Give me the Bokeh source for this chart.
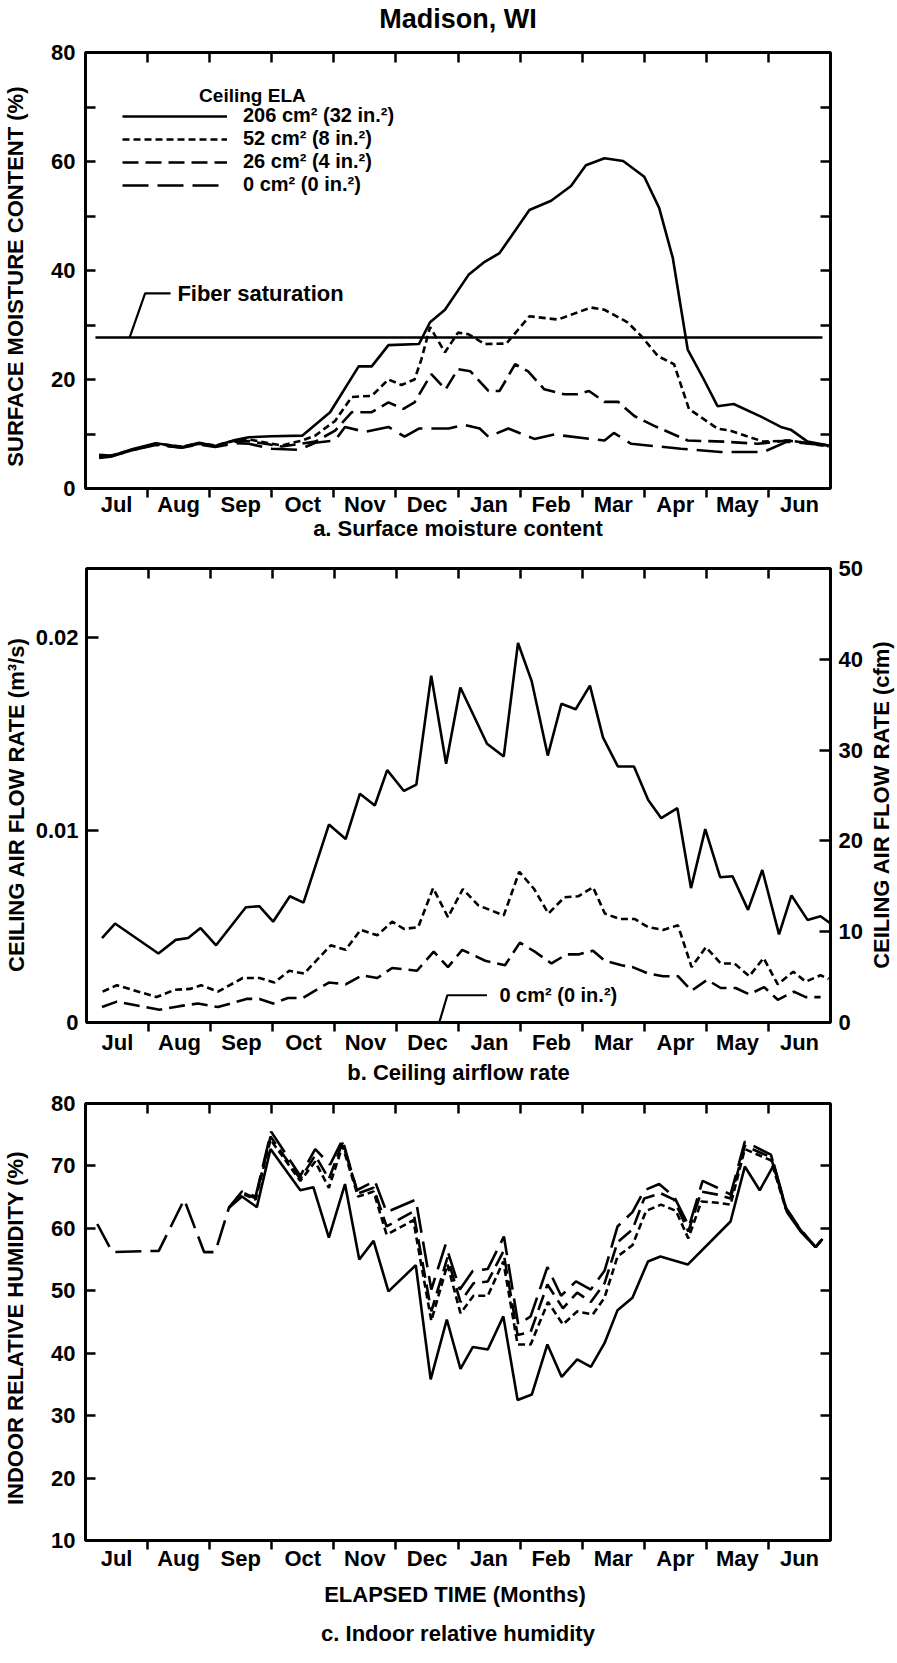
import math
from bokeh.plotting import figure
from bokeh.models import Range1d, LinearAxis, FixedTicker, Legend, LegendItem, Label, Title
from bokeh.layouts import column, row
from bokeh.core.properties import value
from bokeh.embed import file_html
from bokeh.resources import INLINE

FONT = "Liberation Sans"

# ---------------- categories ----------------
months = ["Jul", "Aug", "Sep", "Oct", "Nov", "Dec", "Jan", "Feb", "Mar", "Apr", "May", "Jun"]
month_centers = [i + 0.5 for i in range(12)]
month_bounds = list(range(1, 12))
ela_labels = ["206 cm² (32 in.²)", "52 cm² (8 in.²)", "26 cm² (4 in.²)", "0 cm² (0 in.²)"]

# ---------------- a. surface moisture content (%) ; x = elapsed months ----------------
a_x_206 = [0.22, 0.43, 0.75, 1.13, 1.56, 1.83, 2.09, 2.41, 2.63, 3.0, 3.49, 3.94, 4.4, 4.61, 4.88, 5.37, 5.55,
           5.79, 6.17, 6.43, 6.67, 7.15, 7.5, 7.82, 8.06, 8.36, 8.66, 9.0, 9.24, 9.46, 9.7, 9.96, 10.18, 10.44,
           10.88, 11.2, 11.36, 11.63, 11.97]
a_y_206 = [6.2, 6.0, 7.2, 8.3, 7.6, 8.4, 7.8, 8.9, 9.4, 9.6, 9.7, 14.0, 22.4, 22.4, 26.3, 26.5, 30.5,
           32.8, 39.2, 41.6, 43.2, 51.1, 52.8, 55.5, 59.3, 60.6, 60.1, 57.2, 51.5, 42.3, 25.5, 20.0, 15.1, 15.5,
           13.2, 11.3, 10.8, 8.6, 7.9]
a_x_52 = [0.22, 0.43, 0.75, 1.13, 1.56, 1.83, 2.09, 2.41, 2.63, 3.16, 3.49, 3.7, 4.02, 4.29, 4.61, 4.88, 5.09,
          5.3, 5.41, 5.55, 5.79, 6.0, 6.17, 6.43, 6.78, 7.15, 7.61, 8.14, 8.36, 8.73, 8.95, 9.22, 9.48, 9.72,
          10.18, 10.39, 10.92, 11.36, 11.97]
a_y_52 = [6.0, 6.1, 7.1, 8.2, 7.7, 8.3, 7.9, 8.8, 9.0, 7.9, 8.8, 9.7, 12.4, 16.8, 17.0, 20.0, 19.0,
          20.0, 23.7, 29.6, 25.0, 28.6, 28.3, 26.5, 26.6, 31.6, 31.0, 33.2, 32.8, 30.5, 28.0, 24.3, 22.8, 14.6,
          11.0, 10.6, 8.6, 8.8, 7.7]
a_x_26 = [0.22, 0.43, 0.75, 1.13, 1.56, 1.83, 2.09, 2.41, 2.63, 3.16, 3.7, 4.02, 4.29, 4.61, 4.88, 5.12, 5.3,
          5.57, 5.8, 6.0, 6.2, 6.49, 6.67, 6.92, 7.13, 7.39, 7.71, 7.93, 8.11, 8.36, 8.58, 8.84, 9.16, 9.7,
          10.28, 10.83, 11.3, 11.97]
a_y_26 = [5.8, 6.0, 7.0, 8.1, 7.5, 8.2, 7.7, 8.6, 8.7, 7.7, 8.6, 10.6, 14.0, 14.0, 15.8, 14.6, 15.8,
          21.0, 18.2, 21.9, 21.5, 17.9, 17.9, 22.8, 21.5, 18.2, 17.3, 17.3, 17.9, 15.9, 15.9, 13.3, 11.5, 8.8,
          8.6, 8.2, 8.8, 7.9]
a_x_0 = [0.22, 0.43, 0.75, 1.13, 1.56, 1.83, 2.09, 2.41, 2.63, 3.0, 3.44, 3.7, 4.02, 4.18, 4.5, 4.88, 5.14,
         5.37, 5.85, 6.1, 6.35, 6.49, 6.81, 7.23, 7.55, 8.36, 8.51, 8.79, 9.59, 10.23, 10.92, 11.3, 11.97]
a_y_0 = [5.6, 5.9, 7.0, 8.0, 7.5, 8.1, 7.6, 8.3, 8.2, 7.3, 7.1, 8.4, 8.8, 11.3, 10.4, 11.3, 9.5,
         11.0, 11.0, 11.7, 11.0, 9.5, 11.0, 9.1, 9.9, 8.8, 10.2, 8.2, 7.3, 6.7, 6.7, 8.6, 7.9]
fiber_saturation = 27.7

# ---------------- b. ceiling airflow rate (cfm) ----------------
b_x_206 = [0.25, 0.46, 1.16, 1.44, 1.64, 1.84, 2.09, 2.57, 2.79, 3.01, 3.28, 3.5, 3.91, 4.18, 4.41, 4.65, 4.85,
           5.12, 5.32, 5.56, 5.8, 6.03, 6.46, 6.73, 6.96, 7.18, 7.44, 7.66, 7.89, 8.12, 8.33, 8.57, 8.83, 9.06,
           9.27, 9.53, 9.75, 9.98, 10.22, 10.42, 10.67, 10.9, 11.17, 11.37, 11.63, 11.84, 12.0]
b_y_206 = [9.3, 10.9, 7.6, 9.1, 9.3, 10.4, 8.5, 12.7, 12.8, 11.1, 13.9, 13.2, 21.8, 20.2, 25.2, 23.9, 27.8,
           25.5, 26.2, 38.2, 28.5, 36.9, 30.7, 29.3, 41.8, 37.6, 29.4, 35.1, 34.5, 37.1, 31.4, 28.2, 28.2, 24.5,
           22.5, 23.6, 14.8, 21.3, 16.0, 16.1, 12.4, 16.8, 9.7, 14.0, 11.3, 11.7, 10.9]
b_x_52 = [0.26, 0.49, 1.13, 1.42, 1.67, 1.85, 2.12, 2.52, 2.79, 3.03, 3.27, 3.51, 3.94, 4.18, 4.42, 4.69, 4.93,
          5.12, 5.35, 5.59, 5.83, 6.07, 6.32, 6.73, 6.98, 7.22, 7.45, 7.71, 7.93, 8.17, 8.36, 8.6, 8.84, 9.06,
          9.3, 9.54, 9.76, 9.99, 10.23, 10.45, 10.69, 10.92, 11.15, 11.4, 11.6, 11.84, 11.97]
b_y_52 = [3.4, 4.1, 2.8, 3.6, 3.7, 4.1, 3.4, 4.9, 4.9, 4.4, 5.7, 5.4, 8.5, 8.0, 10.2, 9.6, 11.1,
          10.3, 10.5, 14.8, 11.6, 14.7, 12.9, 11.8, 16.6, 14.7, 12.0, 13.8, 13.9, 14.9, 12.0, 11.4, 11.4, 10.5,
          10.2, 10.7, 6.1, 8.3, 6.5, 6.5, 5.1, 7.1, 4.2, 5.6, 4.5, 5.2, 4.8]
b_x_26 = [0.25, 0.49, 1.18, 1.5, 1.8, 2.12, 2.58, 2.79, 3.01, 3.25, 3.49, 3.91, 4.18, 4.45, 4.69, 4.93, 5.33,
          5.6, 5.83, 6.06, 6.43, 6.75, 6.99, 7.23, 7.5, 7.74, 7.93, 8.17, 8.36, 8.63, 8.81, 9.06, 9.3, 9.54,
          9.76, 10.01, 10.23, 10.47, 10.69, 10.93, 11.15, 11.41, 11.6, 11.84]
b_y_26 = [1.7, 2.3, 1.4, 1.8, 2.1, 1.7, 2.6, 2.6, 2.1, 2.7, 2.7, 4.4, 4.2, 5.2, 4.9, 6.0, 5.7,
          7.8, 6.1, 8.0, 6.8, 6.3, 8.8, 7.8, 6.5, 7.5, 7.5, 7.9, 6.8, 6.3, 6.1, 5.4, 5.1, 5.1,
          3.5, 4.7, 3.8, 3.8, 3.1, 3.9, 2.5, 3.4, 2.8, 2.8]
b_cfm_max = 50
CFM_TO_M3S = 0.00047194745

# ---------------- c. indoor relative humidity (%) ----------------
c_x_206 = [2.31, 2.52, 2.76, 2.98, 3.46, 3.67, 3.92, 4.18, 4.41, 4.64, 4.88, 5.32, 5.56, 5.82, 6.04, 6.24, 6.48,
           6.73, 6.96, 7.19, 7.44, 7.67, 7.92, 8.14, 8.36, 8.57, 8.81, 9.06, 9.26, 9.7, 10.39, 10.62, 10.86,
           11.09, 11.3, 11.52, 11.76, 11.87]
c_y_206 = [63.3, 65.1, 63.4, 72.7, 66.1, 66.6, 58.5, 67.1, 55.0, 58.0, 49.9, 54.1, 35.8, 45.4, 37.5, 41.0, 40.6,
           45.9, 32.5, 33.4, 41.4, 36.2, 39.0, 37.8, 41.6, 46.9, 48.9, 54.7, 55.5, 54.2, 61.1, 69.9, 66.1,
           70.2, 62.6, 59.5, 57.0, 58.3]
c_x_52 = [2.31, 2.52, 2.74, 2.98, 3.46, 3.7, 3.92, 4.14, 4.39, 4.64, 4.85, 5.28, 5.57, 5.83, 6.04, 6.25, 6.48,
          6.73, 6.96, 7.17, 7.45, 7.69, 7.92, 8.17, 8.36, 8.57, 8.81, 9.03, 9.27, 9.51, 9.71, 9.92, 10.18,
          10.39, 10.62, 11.04, 11.28, 11.52, 11.76, 11.87]
c_y_52 = [63.3, 65.6, 64.6, 74.2, 67.6, 70.7, 66.5, 73.2, 65.1, 65.9, 59.0, 61.3, 45.2, 54.2, 46.4, 49.2, 49.2,
          54.7, 41.4, 41.4, 48.2, 44.6, 46.7, 46.2, 48.9, 55.5, 57.3, 62.8, 63.8, 62.8, 58.4, 64.3, 64.1,
          63.8, 72.7, 70.9, 63.1, 59.6, 57.0, 58.3]
c_x_26 = [2.31, 2.52, 2.74, 2.98, 3.46, 3.7, 3.92, 4.14, 4.39, 4.64, 4.85, 5.28, 5.57, 5.83, 6.04, 6.25, 6.48,
          6.73, 6.96, 7.17, 7.44, 7.69, 7.92, 8.14, 8.36, 8.57, 8.81, 9.0, 9.27, 9.48, 9.71, 9.92, 10.18,
          10.39, 10.62, 11.04, 11.28, 11.52, 11.76, 11.87]
c_y_26 = [63.3, 65.8, 64.8, 74.7, 67.9, 71.7, 67.9, 73.7, 65.6, 66.5, 60.3, 62.7, 46.7, 55.3, 48.2, 51.2, 51.5,
          56.3, 42.9, 43.4, 51.0, 47.2, 49.7, 48.2, 51.2, 57.8, 59.8, 64.8, 65.6, 64.6, 59.5, 65.9, 65.4,
          64.8, 73.2, 71.4, 63.3, 59.7, 57.0, 58.3]
c_x_0 = [0.19, 0.43, 1.18, 1.59, 1.91, 2.09, 2.31, 2.52, 2.74, 2.99, 3.46, 3.7, 3.94, 4.14, 4.37, 4.66, 4.85,
         5.32, 5.57, 5.8, 6.03, 6.24, 6.48, 6.74, 6.97, 7.17, 7.44, 7.66, 7.9, 8.14, 8.36, 8.57, 8.81, 9.0,
         9.24, 9.48, 9.72, 9.94, 10.18, 10.39, 10.62, 11.04, 11.28, 11.52, 11.76, 11.87]
c_y_0 = [60.7, 56.2, 56.4, 64.6, 56.2, 56.2, 63.3, 65.9, 65.1, 75.5, 68.4, 72.7, 70.2, 74.2, 66.1, 67.6, 62.6,
         64.6, 50.2, 57.4, 50.2, 53.2, 53.5, 58.7, 44.6, 45.9, 53.8, 49.2, 51.5, 50.2, 53.2, 60.3, 62.6, 66.1,
         67.1, 65.1, 60.3, 67.6, 66.5, 65.4, 73.9, 71.8, 63.3, 59.8, 57.0, 58.3]

# ---------------- styling ----------------
DASH = {"206": "solid", "52": "7 4", "26": "16 7", "0": "26 9"}
LW = 2.6
W = 897
SIDE_W = 30          # strip that carries the right-hand axis title of panel b
TXT = "22px"


def style_axis(ax, size=TXT):
    ax.major_label_text_font = FONT
    ax.major_label_text_font_size = size
    ax.major_label_text_font_style = "bold"
    ax.major_label_text_color = "black"
    ax.axis_label_text_font = FONT
    ax.axis_label_text_font_size = size
    ax.axis_label_text_font_style = "bold"
    ax.axis_label_text_color = "black"
    ax.axis_line_color = None
    ax.major_tick_line_width = 2.5
    ax.minor_tick_line_width = 2.5
    ax.major_tick_line_color = "black"
    ax.minor_tick_line_color = "black"


def hide_labels(ax):
    ax.major_label_text_color = None
    ax.major_label_text_font_size = "1px"
    ax.major_label_standoff = 0


def make_fig(height, y0, y1, b_top, b_bottom, width=W, b_right=67):
    p = figure(width=width, height=height, x_range=Range1d(0, 12), y_range=Range1d(y0, y1),
               output_backend="svg", toolbar_location=None, title=None,
               x_axis_location=None, y_axis_location=None,
               min_border_left=83, min_border_right=b_right, min_border_top=b_top, min_border_bottom=b_bottom)
    p.grid.visible = False
    p.outline_line_color = "black"
    p.outline_line_width = 3
    p.background_fill_color = "white"
    p.border_fill_color = "white"
    return p


def month_axes(p, label, month_standoff, label_standoff, top_label=None, top_standoff=0):
    xb = LinearAxis(ticker=FixedTicker(ticks=month_centers, minor_ticks=month_bounds))
    style_axis(xb)
    xb.major_label_overrides = dict(zip(month_centers, months))
    xb.major_tick_in = 0
    xb.major_tick_out = 0
    xb.minor_tick_in = 0
    xb.minor_tick_out = 9
    xb.major_label_standoff = month_standoff
    xb.axis_label = label
    xb.axis_label_standoff = label_standoff
    p.add_layout(xb, "below")
    xt = LinearAxis(ticker=FixedTicker(ticks=month_bounds))
    style_axis(xt)
    xt.major_tick_in = 10
    xt.major_tick_out = 0
    hide_labels(xt)
    if top_label:
        xt.axis_label = top_label
        xt.axis_label_text_font_size = "27px"
        xt.axis_label_standoff = top_standoff
    p.add_layout(xt, "above")


def plain_right(p, ticks):
    ax = LinearAxis(ticker=FixedTicker(ticks=ticks))
    style_axis(ax)
    ax.major_tick_in = 10
    ax.major_tick_out = 0
    hide_labels(ax)
    p.add_layout(ax, "right")


def text_label(p, x, y, text, size="22px"):
    p.add_layout(Label(x=x, y=y, text=text, text_font=FONT, text_font_size=size,
                       text_font_style="bold", text_baseline="middle", text_align="left",
                       text_color="black"))


# ================= panel a =================
pa = make_fig(548, 0, 80, 51, 60)
month_axes(pa, "a. Surface moisture content", -6, -4, top_label="Madison, WI", top_standoff=19)
ya = LinearAxis(ticker=FixedTicker(ticks=[0, 20, 40, 60, 80], minor_ticks=[10, 30, 50, 70]))
style_axis(ya)
ya.major_tick_in = 10
ya.major_tick_out = 0
ya.minor_tick_in = 10
ya.minor_tick_out = 0
ya.major_label_standoff = 10
ya.axis_label = "SURFACE  MOISTURE  CONTENT (%)"
ya.axis_label_standoff = 20
pa.add_layout(ya, "left")
plain_right(pa, [10, 20, 30, 40, 50, 60, 70])

ra0 = pa.line(a_x_0, a_y_0, line_color="black", line_width=LW, line_dash=DASH["0"])
ra26 = pa.line(a_x_26, a_y_26, line_color="black", line_width=LW, line_dash=DASH["26"])
ra52 = pa.line(a_x_52, a_y_52, line_color="black", line_width=LW, line_dash=DASH["52"])
ra206 = pa.line(a_x_206, a_y_206, line_color="black", line_width=LW)

# fiber saturation reference line with leader
pa.line([0.16, 11.87], [fiber_saturation, fiber_saturation], line_color="black", line_width=2.6)
pa.line([0.71, 0.96, 1.37], [fiber_saturation, 35.8, 35.8], line_color="black", line_width=2.2)
text_label(pa, 1.48, 35.8, "Fiber saturation")

legend = Legend(items=[LegendItem(label=ela_labels[0], renderers=[ra206]),
                       LegendItem(label=ela_labels[1], renderers=[ra52]),
                       LegendItem(label=ela_labels[2], renderers=[ra26]),
                       LegendItem(label=ela_labels[3], renderers=[ra0])],
                location=(37, 292), glyph_width=105, glyph_height=18, label_height=18,
                spacing=-2, padding=0, margin=0, label_standoff=16,
                label_text_font=FONT, label_text_font_size="20px", label_text_font_style="bold",
                label_text_color="black", border_line_alpha=0, background_fill_alpha=0)
pa.add_layout(legend)
text_label(pa, 1.83, 72.1, "Ceiling ELA", size="19px")

# ================= panel b =================
pb = make_fig(544, 0, b_cfm_max, 20, 70, width=W - SIDE_W, b_right=67 - SIDE_W)
pb.extra_y_ranges = {"ms": Range1d(0, b_cfm_max * CFM_TO_M3S)}
month_axes(pb, "b. Ceiling airflow rate", -2, 2)
yl = LinearAxis(y_range_name="ms", ticker=FixedTicker(ticks=[0, 0.01, 0.02]))
style_axis(yl)
yl.major_label_overrides = {0: "0", 0.01: "0.01", 0.02: "0.02"}
yl.major_tick_in = 12
yl.major_tick_out = 0
yl.major_label_standoff = 8
yl.axis_label = "CEILING  AIR  FLOW  RATE (m³/s)"
yl.axis_label_standoff = 4
pb.add_layout(yl, "left")
yr = LinearAxis(ticker=FixedTicker(ticks=[0, 10, 20, 30, 40, 50]))
style_axis(yr)
yr.major_tick_in = 11
yr.major_tick_out = 0
yr.major_label_standoff = 8
pb.add_layout(yr, "right")

pb.line(b_x_26, b_y_26, line_color="black", line_width=LW, line_dash=DASH["26"])
pb.line(b_x_52, b_y_52, line_color="black", line_width=LW, line_dash=DASH["52"])
pb.line(b_x_206, b_y_206, line_color="black", line_width=LW)
pb.line([5.69, 5.82, 6.46], [0, 3.0, 3.0], line_color="black", line_width=2.2)
text_label(pb, 6.66, 3.0, ela_labels[3], size="20px")

# right-hand axis title (reads bottom to top), drawn in a narrow strip beside panel b
pside = figure(width=SIDE_W, height=544, x_range=Range1d(0, 1), y_range=Range1d(0, b_cfm_max),
               output_backend="svg", toolbar_location=None, title=None,
               x_axis_location=None, y_axis_location=None,
               min_border_left=0, min_border_right=0, min_border_top=20, min_border_bottom=70)
pside.grid.visible = False
pside.outline_line_color = None
pside.background_fill_color = "white"
pside.border_fill_color = "white"
pside.text(x=[0.45], y=[b_cfm_max / 2], text=["CEILING  AIR  FLOW  RATE (cfm)"], angle=math.pi / 2,
           text_align="center", text_baseline="middle", text_font=value(FONT),
           text_font_size="22px", text_font_style="bold", text_color="black")

# ================= panel c =================
pc = make_fig(568, 10, 80, 11, 120)
month_axes(pc, "ELAPSED  TIME (Months)", -4, 8)
pc.add_layout(Title(text="c. Indoor relative humidity", align="center", text_font=FONT,
                    text_font_size="22px", text_font_style="bold", text_color="black",
                    standoff=19), "below")
yc = LinearAxis(ticker=FixedTicker(ticks=[10, 20, 30, 40, 50, 60, 70, 80]))
style_axis(yc)
yc.major_tick_in = 10
yc.major_tick_out = 0
yc.major_label_standoff = 10
yc.axis_label = "INDOOR  RELATIVE  HUMIDITY (%)"
yc.axis_label_standoff = 20
pc.add_layout(yc, "left")
plain_right(pc, [20, 30, 40, 50, 60, 70])

pc.line(c_x_0, c_y_0, line_color="black", line_width=LW, line_dash=DASH["0"])
pc.line(c_x_26, c_y_26, line_color="black", line_width=LW, line_dash=DASH["26"])
pc.line(c_x_52, c_y_52, line_color="black", line_width=LW, line_dash=DASH["52"])
pc.line(c_x_206, c_y_206, line_color="black", line_width=LW)

layout = column(pa, row(pb, pside), pc)
open("out.html", "w").write(file_html(layout, INLINE))
